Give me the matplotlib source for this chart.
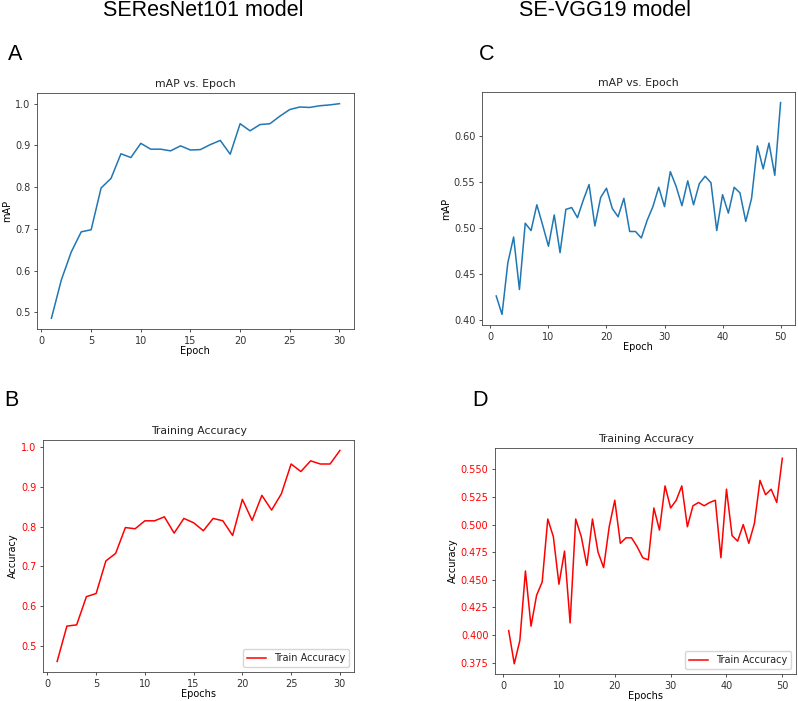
import matplotlib
matplotlib.use("Agg")
import matplotlib.pyplot as plt
import numpy as np

# SEResNet101 - mAP per epoch (panel A)
epochs_resnet = list(range(1, 31))
map_resnet = [0.486, 0.578, 0.645, 0.693, 0.698, 0.798, 0.821, 0.880, 0.871, 0.905,
              0.891, 0.891, 0.887, 0.899, 0.889, 0.890, 0.902, 0.912, 0.879, 0.952,
              0.935, 0.950, 0.952, 0.970, 0.986, 0.992, 0.991, 0.995, 0.997, 1.000]

# SEResNet101 - training accuracy (panel B)
acc_resnet = [0.461, 0.550, 0.553, 0.624, 0.632, 0.714, 0.733, 0.798, 0.795, 0.815,
              0.815, 0.825, 0.784, 0.821, 0.810, 0.790, 0.821, 0.815, 0.778, 0.869,
              0.816, 0.879, 0.842, 0.883, 0.958, 0.939, 0.966, 0.958, 0.958, 0.992]

# SE-VGG19 - mAP per epoch (panel C)
epochs_vgg = list(range(1, 51))
map_vgg = [0.426, 0.406, 0.462, 0.490, 0.433, 0.505, 0.497, 0.525, 0.503, 0.480,
           0.514, 0.473, 0.520, 0.522, 0.511, 0.530, 0.547, 0.502, 0.533, 0.543,
           0.521, 0.512, 0.532, 0.496, 0.496, 0.489, 0.508, 0.523, 0.544, 0.523,
           0.561, 0.545, 0.524, 0.551, 0.525, 0.548, 0.556, 0.549, 0.497, 0.536,
           0.516, 0.544, 0.538, 0.507, 0.532, 0.589, 0.564, 0.592, 0.557, 0.636]

# SE-VGG19 - training accuracy (panel D)
acc_vgg = [0.404, 0.374, 0.395, 0.458, 0.408, 0.436, 0.448, 0.505, 0.489, 0.446,
           0.476, 0.411, 0.505, 0.489, 0.463, 0.505, 0.475, 0.461, 0.498, 0.522,
           0.483, 0.488, 0.488, 0.480, 0.470, 0.468, 0.515, 0.495, 0.535, 0.515,
           0.522, 0.535, 0.498, 0.517, 0.520, 0.517, 0.520, 0.522, 0.470, 0.532,
           0.490, 0.485, 0.500, 0.483, 0.501, 0.540, 0.527, 0.532, 0.520, 0.560]

FS = 7
plt.rcParams.update({
    "font.size": FS,
    "axes.linewidth": 0.6,
    "axes.edgecolor": "#444444",
    "xtick.major.size": 2.5,
    "ytick.major.size": 2.5,
    "xtick.major.width": 0.6,
    "ytick.major.width": 0.6,
    "xtick.major.pad": 2.2,
    "ytick.major.pad": 2.2,
    "xtick.color": "#333333",
    "ytick.color": "#333333",
    "text.color": "#222222",
})

fig = plt.figure(figsize=(7.98, 7.01), dpi=100)

ax_a = fig.add_axes([0.0464, 0.5307, 0.397, 0.3367])
ax_c = fig.add_axes([0.604, 0.5364, 0.392, 0.3324])
ax_b = fig.add_axes([0.0539, 0.0414, 0.3897, 0.331])
ax_d = fig.add_axes([0.6203, 0.0385, 0.3772, 0.3224])

TFS = 7.8

# A
ax_a.plot(epochs_resnet, map_resnet, color="#1f77b4", lw=1.1)
ax_a.set_title("mAP vs. Epoch", fontsize=TFS, pad=4)
ax_a.set_xlabel("Epoch", fontsize=FS, labelpad=0.5)
ax_a.set_ylabel("mAP", fontsize=FS, labelpad=2)
ax_a.set_xticks([0, 5, 10, 15, 20, 25, 30])

# C
ax_c.plot(epochs_vgg, map_vgg, color="#1f77b4", lw=1.1)
ax_c.set_title("mAP vs. Epoch", fontsize=TFS, pad=4)
ax_c.set_xlabel("Epoch", fontsize=FS, labelpad=0.5)
ax_c.set_ylabel("mAP", fontsize=FS, labelpad=2)
ax_c.set_xticks([0, 10, 20, 30, 40, 50])
ax_c.set_yticks([0.40, 0.45, 0.50, 0.55, 0.60])
ax_c.yaxis.set_major_formatter(matplotlib.ticker.FormatStrFormatter("%.2f"))

# B
ax_b.plot(epochs_resnet, acc_resnet, color="red", lw=1.1, label="Train Accuracy")
ax_b.set_title("Training Accuracy", fontsize=TFS, pad=4)
ax_b.set_xlabel("Epochs", fontsize=FS, labelpad=0)
ax_b.set_ylabel("Accuracy", fontsize=FS, labelpad=2)
ax_b.set_xticks([0, 5, 10, 15, 20, 25, 30])
ax_b.tick_params(axis="y", labelcolor="red")
ax_b.legend(loc="lower right", fontsize=FS, handlelength=2.0)

# D
ax_d.plot(epochs_vgg, acc_vgg, color="red", lw=1.1, label="Train Accuracy")
ax_d.set_title("Training Accuracy", fontsize=TFS, pad=4)
ax_d.set_xlabel("Epochs", fontsize=FS, labelpad=0)
ax_d.set_ylabel("Accuracy", fontsize=FS, labelpad=2)
ax_d.set_xticks([0, 10, 20, 30, 40, 50])
ax_d.set_yticks([0.375, 0.400, 0.425, 0.450, 0.475, 0.500, 0.525, 0.550])
ax_d.yaxis.set_major_formatter(matplotlib.ticker.FormatStrFormatter("%.3f"))
ax_d.tick_params(axis="y", labelcolor="red")
ax_d.legend(loc="lower right", fontsize=FS, handlelength=2.0)

# column headers and panel letters
fig.text(203 / 798, 1 - 11 / 701, "SEResNet101 model", ha="center", va="center",
         fontsize=15.5, family="Liberation Sans", color="black")
fig.text(605 / 798, 1 - 11 / 701, "SE-VGG19 model", ha="center", va="center",
         fontsize=15.5, family="Liberation Sans", color="black")
for lbl, x, y in [("A", 15, 54), ("C", 487, 54), ("B", 11, 401), ("D", 480, 401)]:
    fig.text(x / 798, 1 - y / 701, lbl, ha="center", va="center",
             fontsize=15.5, family="Liberation Sans", color="black")

fig.savefig("out.png", dpi=100)
